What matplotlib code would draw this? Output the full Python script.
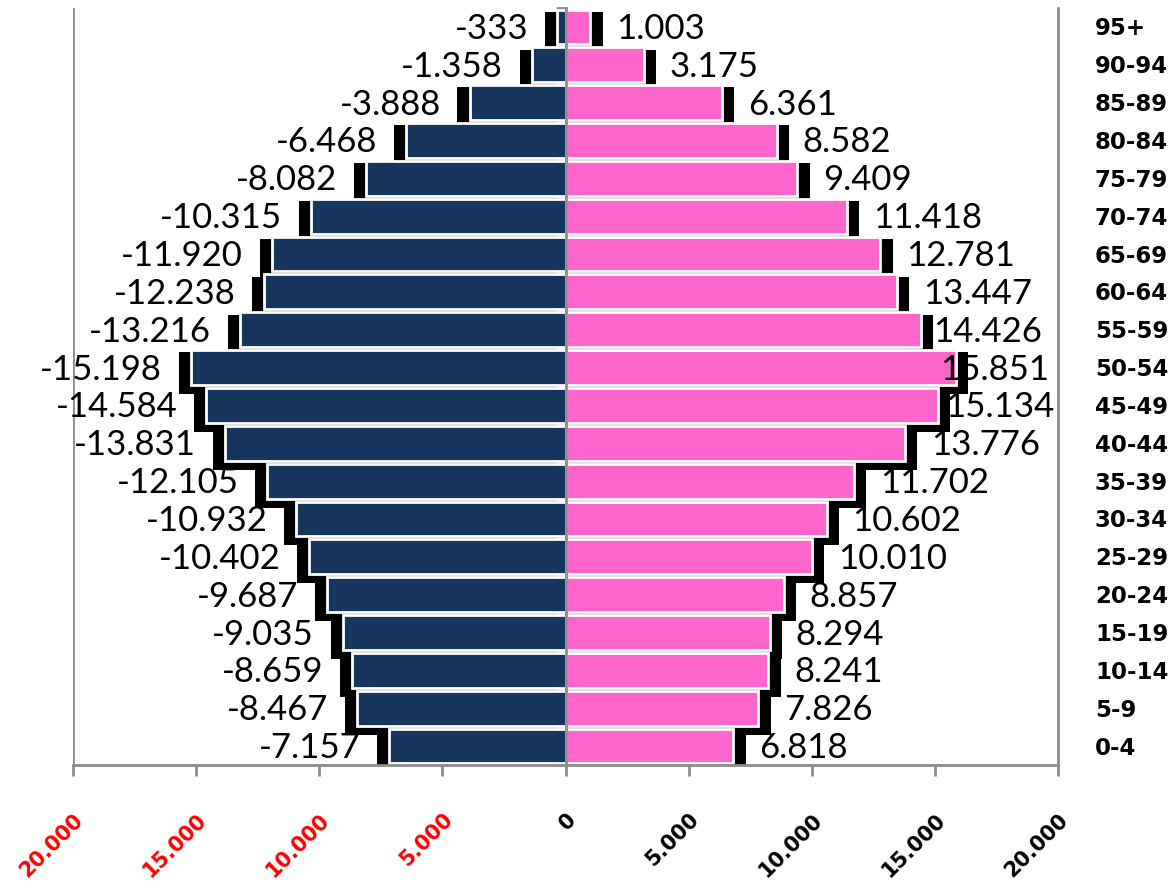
"""Bevoelkerungspyramide nach Altersgruppen (Maenner / Frauen)."""
import numpy as np

import matplotlib

matplotlib.use("Agg")
import matplotlib.pyplot as plt  # noqa: E402
from matplotlib.transforms import blended_transform_factory  # noqa: E402

# Altersgruppen von unten nach oben
ages = ["0-4", "5-9", "10-14", "15-19", "20-24", "25-29", "30-34", "35-39",
        "40-44", "45-49", "50-54", "55-59", "60-64", "65-69", "70-74",
        "75-79", "80-84", "85-89", "90-94", "95+"]
male = [7157, 8467, 8659, 9035, 9687, 10402, 10932, 12105, 13831, 14584,
        15198, 13216, 12238, 11920, 10315, 8082, 6468, 3888, 1358, 333]
female = [6818, 7826, 8241, 8294, 8857, 10010, 10602, 11702, 13776, 15134,
          15851, 14426, 13447, 12781, 11418, 9409, 8582, 6361, 3175, 1003]
x_ticks = [-20000, -15000, -10000, -5000, 0, 5000, 10000, 15000, 20000]

MALE_COLOR = "#17365D"
FEMALE_COLOR = "#FF66CC"
GRID = "#8C8C8C"


def fmt(v):
    return f"{v:,}".replace(",", ".")


W, H = 1176, 885
fig = plt.figure(figsize=(W / 100, H / 100), dpi=100)
ax = fig.add_axes([73 / W, 1 - 765 / H, 985 / W, 757 / H])

y = np.arange(len(ages))
m = -np.array(male)
f = np.array(female)
bar_h = 0.92

# Schatten (Excel-Stil): nach aussen und unten versetzt
ext = 500
ax.barh(y - 0.15, m - ext, height=bar_h + 0.18, left=0, color="black", zorder=1)
ax.barh(y - 0.15, f + ext, height=bar_h + 0.18, left=0, color="black", zorder=1)

ax.barh(y, m, height=bar_h, color=MALE_COLOR, edgecolor="white", linewidth=2, zorder=2)
ax.barh(y, f, height=bar_h, color=FEMALE_COLOR, edgecolor="white", linewidth=2, zorder=2)

ax.set_xlim(-20000, 20000)
ax.set_ylim(-0.5, len(ages) - 0.5)

# Datenbeschriftungen (einige manuell verschoben wie im Original)
female_nudge = {11: -14, 10: -42, 9: -19}
label_font = dict(family="Lato", fontsize=25, color="black", zorder=5)
for i in y:
    ax.annotate(fmt(m[i]), (m[i], i), xytext=(-29, -2),
                textcoords="offset pixels", ha="right", va="center", **label_font)
    ax.annotate(fmt(f[i]), (f[i], i), xytext=(26 + female_nudge.get(i, 0), -2),
                textcoords="offset pixels", ha="left", va="center", **label_font)

# Altersgruppen rechts
trans = blended_transform_factory(ax.transAxes, ax.transData)
for i, a in enumerate(ages):
    ax.annotate(a, (1, i), xycoords=trans, xytext=(37, -2), textcoords="offset pixels",
                ha="left", va="center", family="DejaVu Sans", fontweight="bold",
                fontsize=16.5)

# Achsen
ax.spines["top"].set_visible(False)
ax.spines["left"].set_position(("data", 0))
for s in ["left", "right", "bottom"]:
    ax.spines[s].set_color(GRID)
    ax.spines[s].set_linewidth(2)
ax.axvline(-20000, color=GRID, linewidth=2, zorder=0)

ax.set_yticks(np.arange(len(ages) + 1) - 0.5)
ax.set_yticklabels([])
ax.tick_params(axis="y", direction="out", length=7, width=2, color=GRID, right=False)

ax.set_xticks(x_ticks)
ax.set_xticklabels([fmt(abs(v)) for v in x_ticks], rotation=45, ha="right", va="top",
                   rotation_mode="anchor", family="DejaVu Sans", fontweight="bold",
                   fontsize=15)
ax.tick_params(axis="x", direction="out", length=8, width=2, color=GRID, pad=24)
for lbl, v in zip(ax.get_xticklabels(), x_ticks):
    lbl.set_color("red" if v < 0 else "black")

fig.savefig("out.png", dpi=100)
